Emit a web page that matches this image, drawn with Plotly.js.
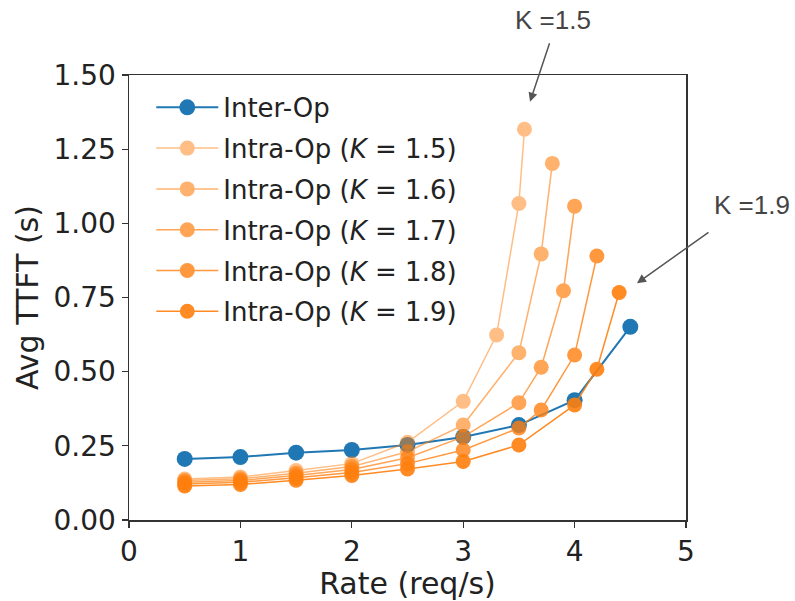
<!DOCTYPE html>
<html>
<head>
<meta charset="utf-8">
<script src="https://cdn.plot.ly/plotly-3.0.1.min.js"></script>
<style>html,body{margin:0;padding:0;background:#fff;}#chart{width:795px;height:601px;}</style>
</head>
<body>
<div id="chart"></div>
<script>
// Inter-Op
const interX = [0.5, 1.0, 1.5, 2.0, 2.5, 3.0, 3.5, 4.0, 4.5];
const interY = [0.206, 0.212, 0.227, 0.236, 0.253, 0.280, 0.320, 0.404, 0.651];

// Intra-Op series
const k15X = [0.5, 1.0, 1.5, 2.0, 2.5, 3.0, 3.3, 3.5, 3.55];
const k15Y = [0.138, 0.145, 0.167, 0.190, 0.262, 0.400, 0.624, 1.067, 1.317];

const k16X = [0.5, 1.0, 1.5, 2.0, 2.5, 3.0, 3.5, 3.7, 3.8];
const k16Y = [0.133, 0.139, 0.158, 0.180, 0.230, 0.320, 0.564, 0.897, 1.202];

const k17X = [0.5, 1.0, 1.5, 2.0, 2.5, 3.0, 3.5, 3.7, 3.9, 4.0];
const k17Y = [0.127, 0.133, 0.150, 0.170, 0.210, 0.280, 0.395, 0.515, 0.773, 1.058];

const k18X = [0.5, 1.0, 1.5, 2.0, 2.5, 3.0, 3.5, 3.7, 4.0, 4.2];
const k18Y = [0.121, 0.127, 0.142, 0.160, 0.190, 0.236, 0.310, 0.371, 0.556, 0.890];

const k19X = [0.5, 1.0, 1.5, 2.0, 2.5, 3.0, 3.5, 4.0, 4.2, 4.4];
const k19Y = [0.115, 0.120, 0.134, 0.150, 0.172, 0.197, 0.253, 0.388, 0.508, 0.767];

const seriesNames = ["Inter-Op", "Intra-Op (<i>K</i> = 1.5)", "Intra-Op (<i>K</i> = 1.6)",
  "Intra-Op (<i>K</i> = 1.7)", "Intra-Op (<i>K</i> = 1.8)", "Intra-Op (<i>K</i> = 1.9)"];
const xTicks = [0, 1, 2, 3, 4, 5];
const yTicks = [0, 0.25, 0.5, 0.75, 1.0, 1.25, 1.5];

const BLUE = "#1f77b4";
const ORANGE = "#ff7f0e";
const orangeAlphas = [0.5, 0.6, 0.7, 0.8, 0.9];
const FONT = "DejaVu Sans, sans-serif";

const xs = [k15X, k16X, k17X, k18X, k19X];
const ys = [k15Y, k16Y, k17Y, k18Y, k19Y];

const traces = [{
  x: interX, y: interY, name: seriesNames[0], type: "scatter", mode: "lines+markers",
  line: {color: BLUE, width: 2}, marker: {color: BLUE, size: 16}, legendgroup: "g0"
}];
for (let i = 0; i < 5; i++) {
  traces.push({
    x: xs[i], y: ys[i], name: seriesNames[i + 1], type: "scatter", mode: "lines+markers",
    line: {color: ORANGE, width: 1.5}, marker: {color: ORANGE, size: 15},
    opacity: orangeAlphas[i], legendgroup: "g" + (i + 1)
  });
}

const annFont = {family: "Liberation Sans, Arial, sans-serif", size: 26, color: "#444"};
const layout = {
  width: 795, height: 601,
  margin: {l: 129, r: 109, t: 75, b: 81},
  paper_bgcolor: "#fff", plot_bgcolor: "#fff",
  font: {family: FONT, size: 28, color: "#222"},
  showlegend: true,
  legend: {
    x: 0.04, y: 0.98, xanchor: "left", yanchor: "top",
    bgcolor: "rgba(0,0,0,0)", borderwidth: 0,
    font: {family: FONT, size: 26, color: "#222"},
    itemwidth: 62, tracegroupgap: 4
  },
  xaxis: {
    range: [0, 5], tickvals: xTicks, ticktext: xTicks.map(String),
    showgrid: false, zeroline: false, showline: true, mirror: true,
    linecolor: "#333", linewidth: 1.5, ticks: "outside", ticklen: 6, tickwidth: 1.2, tickcolor: "#333",
    tickfont: {family: FONT, size: 28, color: "#222"},
    title: {text: "Rate (req/s)", font: {family: FONT, size: 30, color: "#222"}, standoff: 0}
  },
  yaxis: {
    range: [0, 1.5], tickvals: yTicks, ticktext: yTicks.map(v => v.toFixed(2)),
    showgrid: false, zeroline: false, showline: true, mirror: true,
    linecolor: "#333", linewidth: 1.5, ticks: "outside", ticklen: 6, tickwidth: 1.2, tickcolor: "#333",
    tickfont: {family: FONT, size: 28, color: "#222"},
    title: {text: "Avg TTFT (s)", font: {family: FONT, size: 30, color: "#222"}, standoff: 6}
  },
  annotations: [
    {xref: "paper", yref: "paper", x: 0.762, y: 1.124, text: "K =1.5", showarrow: false,
     xanchor: "center", yanchor: "middle", font: annFont},
    {xref: "x", yref: "y", x: 3.60, y: 1.41, ax: 20, ay: -60, text: "", showarrow: true,
     arrowhead: 2, arrowsize: 1.2, arrowwidth: 1.5, arrowcolor: "#555"},
    {xref: "paper", yref: "paper", x: 1.118, y: 0.708, text: "K =1.9", showarrow: false,
     xanchor: "center", yanchor: "middle", font: annFont},
    {xref: "x", yref: "y", x: 4.56, y: 0.798, ax: 73, ay: -52, text: "", showarrow: true,
     arrowhead: 2, arrowsize: 1.2, arrowwidth: 1.5, arrowcolor: "#555"}
  ]
};

Plotly.newPlot("chart", traces, layout, {displayModeBar: false, staticPlot: true});
</script>
</body>
</html>
